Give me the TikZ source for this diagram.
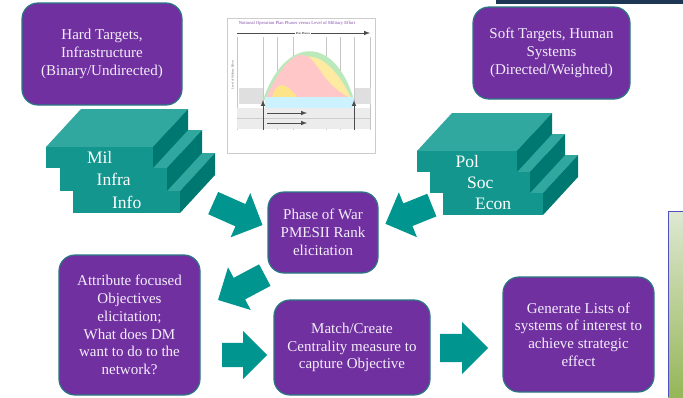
\documentclass[tikz,border=0pt]{standalone}
\usepackage{fontspec}
\setmainfont{Liberation Serif}
\newfontfamily\serifa{Liberation Serif}
\usetikzlibrary{shapes.arrows}
\definecolor{morado}{RGB}{112,48,160}
\definecolor{bordemorado}{RGB}{40,120,130}
\definecolor{textomorado}{RGB}{244,238,250}
\definecolor{verdeazul}{RGB}{0,150,143}
\definecolor{tapa}{RGB}{48,168,160}
\definecolor{frente}{RGB}{18,150,142}
\definecolor{lado}{RGB}{0,120,114}
\definecolor{barra}{RGB}{28,54,84}
\definecolor{panelarriba}{RGB}{222,232,210}
\definecolor{panelabajo}{RGB}{150,182,88}
\definecolor{bordepanel}{RGB}{80,80,190}
% placa: #1 nombre, #2 x, #3 y, #4 ancho, #5 alto, #6 texto
\newcommand{\placa}[6]{%
  \fill[tapa] (#2,#3) -- ++(35,-38) -- ++(#4,0) -- ++(-35,38) -- cycle;
  \fill[lado] ({#2+#4},#3) -- ++(35,-38) -- ++(0,#5) -- ++(-35,38) -- cycle;
  \node[placafrente, minimum width=#4, minimum height=#5, anchor=north west] (#1) at (#2,#3) {#6};
}
\begin{document}
\begin{tikzpicture}[x=1pt,y=-1pt,
    caja/.style={rounded corners=16pt, fill=morado, draw=bordemorado, line width=1.2pt,
      text=textomorado, align=center, font=\serifa\fontsize{15}{17.8}\selectfont, inner sep=2pt},
    placafrente/.style={fill=frente, text=white, inner sep=0pt, font=\serifa\fontsize{17.5}{17.5}\selectfont},
    flecha/.style={single arrow, fill=verdeazul, draw=none, inner xsep=0pt, inner ysep=12pt,
      single arrow head extend=12pt, anchor=tail},
    gris/.style={line width=1pt, gray!60!black, -latex}]
    \useasboundingbox (0,0) rectangle (683,397);
    \fill[barra] (496,0) rectangle (683,4);
    \shade[top color=panelarriba, bottom color=panelabajo] (668,211) rectangle (683,397);
    \draw[bordepanel, line width=1pt] (668,397) -- (668,211) -- (683,211);
    % Cajas moradas
    \node[caja, minimum width=160, minimum height=102] (duros) at (102,54) {Hard Targets,\\Infrastructure\\(Binary/Undirected)};
    \node[caja, minimum width=157, minimum height=92] (blandos) at (551.5,53) {Soft Targets, Human\\Systems\\(Directed/Weighted)};
    \node[caja, minimum width=110, minimum height=81] (fase) at (323,232.5) {Phase of War\\PMESII Rank\\elicitation};
    \node[caja, minimum width=141, minimum height=140] (atributo) at (129.5,325) {Attribute focused\\Objectives\\elicitation;\\What does DM\\want to do to the\\network?};
    \node[caja, minimum width=156, minimum height=95] (medida) at (352,347.5) {Match/Create\\Centrality measure to\\capture Objective};
    \node[caja, minimum width=151, minimum height=115] (listas) at (578.5,334.5) {Generate Lists of\\systems of interest to\\achieve strategic\\effect};
    % Placas
    \placa{info}{73}{191}{107}{22}{Info}
    \placa{infra}{60}{168}{107}{23}{Infra}
    \placa{mil}{46}{147}{107}{21}{Mil}
    \placa{econ}{443}{193}{100}{22}{Econ}
    \placa{soc}{430}{172}{100}{21}{Soc}
    \placa{pol}{417}{151}{100}{21}{Pol}
    % Flechas gruesas
    \node[flecha, minimum height=54pt, rotate=-24] (f1) at (213,203) {};
    \node[flecha, minimum height=50pt, rotate=202] (f2) at (432,205) {};
    \node[flecha, minimum height=53pt, rotate=208] (f3) at (265,275) {};
    \node[flecha, minimum height=45pt] (f4) at (222,355) {};
    \node[flecha, minimum height=48pt, inner ysep=14pt] (f5) at (440,348) {};
    % Grafica del centro (aproximada)
    \draw[gray!40, fill=white, line width=0.5pt] (227,18) rectangle (375,153);
    \node[font=\fontsize{4.6}{5}\selectfont, text=morado!85] (titulo) at (297,23) {Notional Operation Plan Phases versus Level of Military Effort};
    \draw[gray!45, line width=0.3pt] (237,37) -- (237,130) (263,37) -- (263,130) (277,37) -- (277,130)
      (293,37) -- (293,130) (326,37) -- (326,130) (340,37) -- (340,130) (354,37) -- (354,130) (370,37) -- (370,130);
    \draw[gris] (237,33) -- (370,33);
    \node[fill=white, inner sep=1pt, font=\fontsize{3}{3}\selectfont] (fases) at (303,33) {Plan Phases};
    \node[rotate=90, font=\fontsize{3}{3}\selectfont, text=gray!70!black] (nivel) at (233,75) {Level of Military Effort};
    \fill[gray!25] (239,88) rectangle (263,104);
    \fill[gray!25] (355,88) rectangle (371,104);
    \fill[green!50!gray!35] (263,100) .. controls (285,35) and (335,35) .. (354,100) -- cycle;
    \fill[yellow!60!orange!35] (268,100) .. controls (290,42) and (325,42) .. (352,100) -- cycle;
    \fill[red!40!pink!40] (265,100) .. controls (282,62) and (298,48) .. (310,58) .. controls (322,70) and (326,86) .. (350,98) -- (350,100) -- cycle;
    \fill[yellow!60!orange!45] (272,98) .. controls (276,80) and (286,82) .. (297,97) -- cycle;
    \fill[blue!25!cyan!20] (265,97) rectangle (353,108);
    \fill[gray!15] (237,108) rectangle (370,129);
    \draw[gray!40, line width=0.3pt] (237,118.5) -- (370,118.5);
    \draw[gris] (267,113) -- (307,113);
    \draw[gris] (267,123) -- (307,123);
    \draw[gris] (263,130) -- (263,100);
    \draw[gris] (354,130) -- (354,100);
\end{tikzpicture}
\end{document}
